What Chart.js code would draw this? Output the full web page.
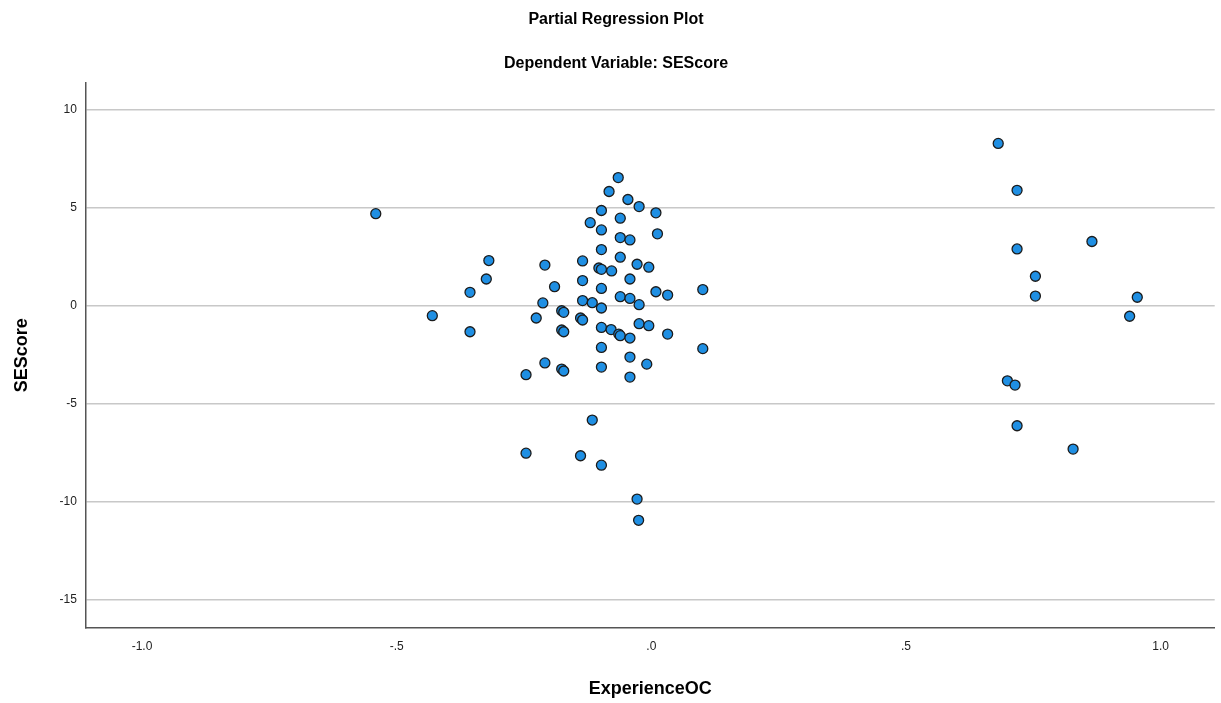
<!DOCTYPE html>
<html>
<head>
<meta charset="utf-8">
<script src="https://cdn.jsdelivr.net/npm/chart.js@4/dist/chart.umd.min.js"></script>
<style>
  html, body { margin: 0; padding: 0; background: #fff; }
  #wrap { width: 1221px; height: 703px; position: relative; }
</style>
</head>
<body>
<div id="wrap"><canvas id="c" width="1221" height="703"></canvas></div>
<script>
const chartTitle = 'Partial Regression Plot';
const chartSubtitle = 'Dependent Variable: SEScore';
const xAxisTitle = 'ExperienceOC';
const yAxisTitle = 'SEScore';
const xTicks = [-1.0, -0.5, 0.0, 0.5, 1.0];
const yTicks = [-15, -10, -5, 0, 5, 10];

const experienceOC = [
  -0.541, -0.319, -0.324, -0.356, -0.430, -0.356, -0.209, -0.213, -0.226, -0.209,
  -0.065, -0.083, -0.046, -0.024, -0.098, 0.009, -0.061, -0.120, -0.098, 0.012,
  -0.061, -0.042, -0.098, -0.061, -0.135, -0.103, -0.098, -0.078, -0.028, -0.005,
  -0.042, -0.135, -0.190, -0.098, 0.101, 0.009, 0.032, -0.061, -0.042, -0.024,
  -0.135, -0.116, -0.098, -0.176, -0.172, -0.139, -0.135, -0.176, -0.172, -0.098,
  -0.079, -0.064, -0.061, -0.042, -0.024, -0.005, 0.032, -0.098, 0.101, -0.042,
  -0.176, -0.172, -0.098, -0.009, -0.042, -0.246, -0.116, -0.139, -0.098, -0.028,
  -0.025, -0.246,
  0.681, 0.718, 0.718, 0.865, 0.754, 0.754, 0.954, 0.939, 0.699, 0.714, 0.718, 0.828
];
const seScore = [
  4.69, 2.30, 1.36, 0.68, -0.51, -1.33, 2.07, 0.14, -0.63, -2.92,
  6.53, 5.82, 5.41, 5.05, 4.85, 4.73, 4.46, 4.23, 3.86, 3.66,
  3.47, 3.35, 2.86, 2.47, 2.28, 1.92, 1.85, 1.77, 2.11, 1.96,
  1.36, 1.28, 0.97, 0.88, 0.82, 0.71, 0.54, 0.46, 0.37, 0.05,
  0.26, 0.15, -0.12, -0.26, -0.34, -0.63, -0.73, -1.24, -1.33, -1.11,
  -1.22, -1.45, -1.53, -1.65, -0.92, -1.02, -1.45, -2.13, -2.19, -2.62,
  -3.23, -3.33, -3.13, -2.98, -3.64, -3.52, -5.83, -7.65, -8.13, -9.86,
  -10.94, -7.52,
  8.27, 5.88, 2.89, 3.27, 1.50, 0.49, 0.43, -0.54, -3.83, -4.05, -6.12, -7.31
];

const points = experienceOC.map((x, i) => ({ x: x, y: seScore[i] }));

function fmtX(v) {
  let s = Number(v).toFixed(1);
  s = s.replace(/^(-?)0\./, '$1.');
  return s;
}

const FONT = "'Liberation Sans', Arial, sans-serif";

new Chart(document.getElementById('c'), {
  type: 'scatter',
  data: {
    datasets: [{
      data: points,
      backgroundColor: '#1f8fe3',
      borderColor: '#1c1c1c',
      borderWidth: 1.3,
      pointRadius: 5,
      pointHoverRadius: 5
    }]
  },
  options: {
    responsive: false,
    animation: false,
    devicePixelRatio: 1,
    layout: { padding: { left: 11, right: 0, top: 0, bottom: 3 } },
    plugins: {
      legend: { display: false },
      tooltip: { enabled: false },
      title: {
        display: true,
        text: chartTitle,
        color: '#000',
        font: { family: FONT, size: 16, weight: 'bold', lineHeight: 1.2 },
        padding: { top: 10, bottom: 25 }
      },
      subtitle: {
        display: true,
        text: chartSubtitle,
        color: '#000',
        font: { family: FONT, size: 16, weight: 'bold', lineHeight: 1.2 },
        padding: { top: 0, bottom: 9 }
      }
    },
    scales: {
      x: {
        type: 'linear',
        min: -1.11,
        max: 1.106,
        afterBuildTicks: (s) => { s.ticks = xTicks.map(v => ({ value: v })); },
        ticks: {
          callback: (v) => fmtX(v),
          color: '#222',
          font: { family: FONT, size: 12 },
          padding: 11,
          maxRotation: 0
        },
        grid: { display: false, drawTicks: false },
        border: { display: true, color: '#555', width: 1.5 },
        title: {
          display: true,
          text: xAxisTitle,
          color: '#000',
          font: { family: FONT, size: 18, weight: 'bold', lineHeight: 1.2 },
          padding: { top: 14, bottom: 0 }
        }
      },
      y: {
        type: 'linear',
        min: -16.43,
        max: 11.38,
        afterBuildTicks: (s) => { s.ticks = yTicks.map(v => ({ value: v })); },
        ticks: {
          callback: (v) => String(v),
          color: '#222',
          font: { family: FONT, size: 12 },
          padding: 9
        },
        grid: { display: true, color: '#c8c8c8', lineWidth: 1.5, drawTicks: false },
        border: { display: true, color: '#555', width: 1.5 },
        title: {
          display: true,
          text: yAxisTitle,
          color: '#000',
          font: { family: FONT, size: 18, weight: 'bold', lineHeight: 1.2 },
          padding: { top: 0, bottom: 18 }
        }
      }
    }
  }
});
</script>
</body>
</html>
